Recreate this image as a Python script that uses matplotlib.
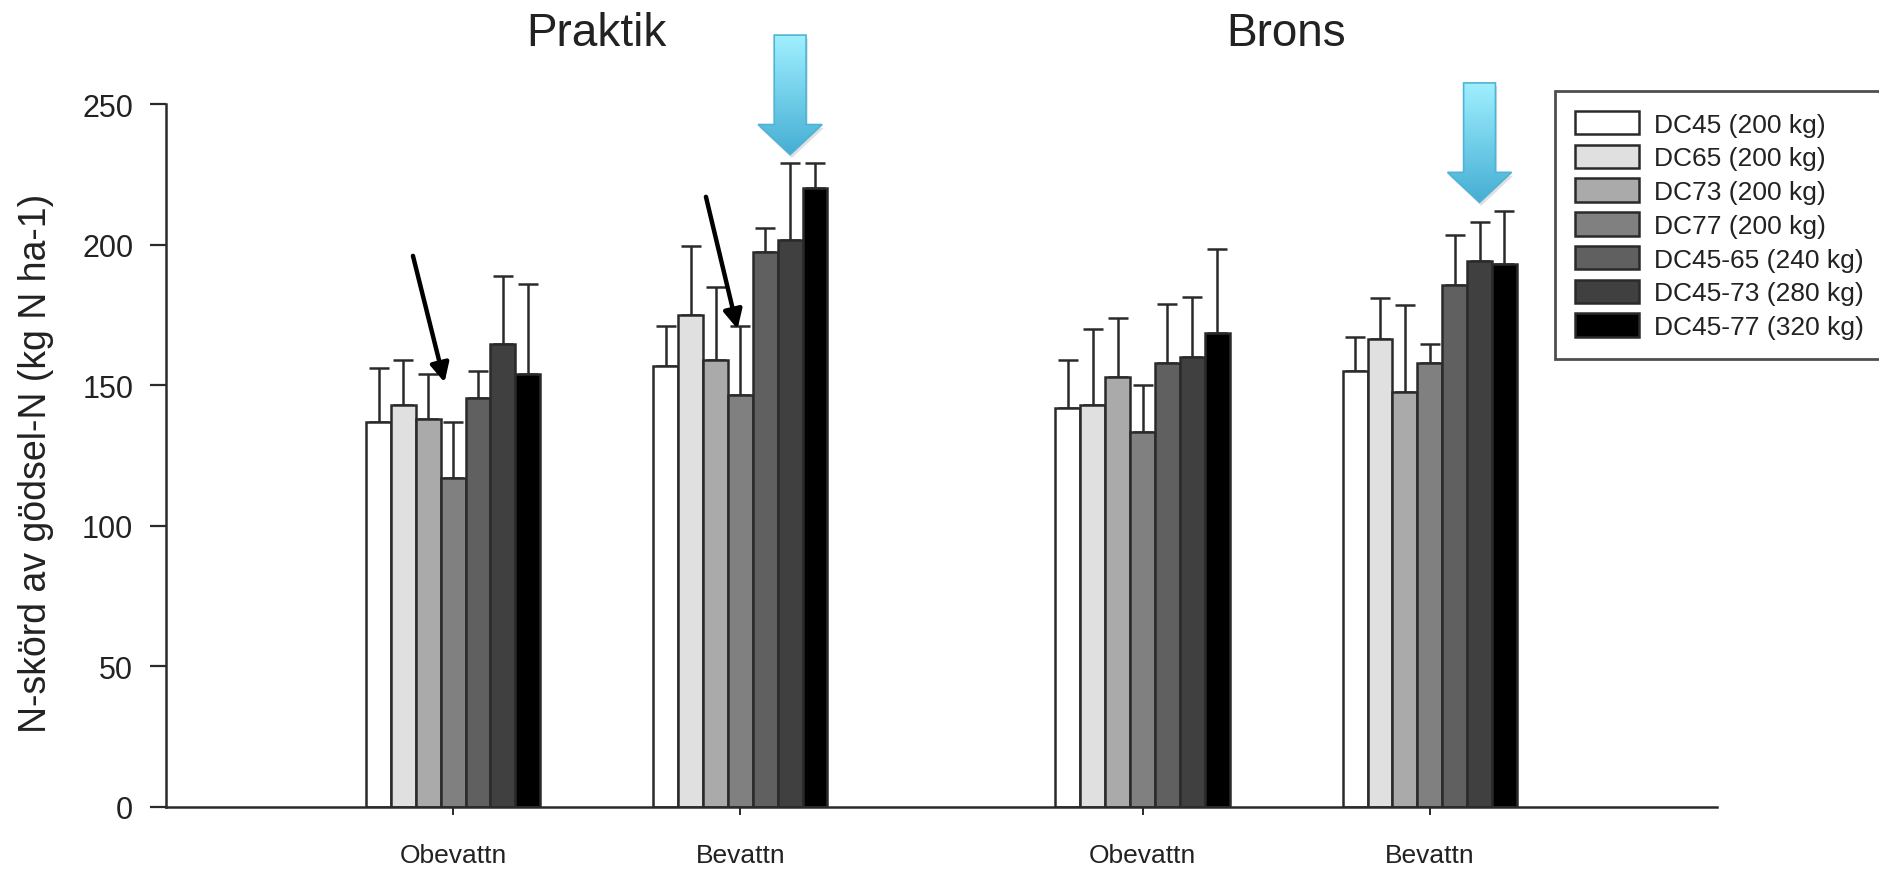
import numpy as np
import matplotlib
matplotlib.use("Agg")
from matplotlib import pyplot as plt
from matplotlib.patches import Polygon

plt.rcParams['font.family'] = ['Liberation Sans', 'DejaVu Sans']

# --- data -------------------------------------------------------------
series = ["DC45 (200 kg)", "DC65 (200 kg)", "DC73 (200 kg)", "DC77 (200 kg)",
          "DC45-65 (240 kg)", "DC45-73 (280 kg)", "DC45-77 (320 kg)"]
colors = ["#ffffff", "#e0e0e0", "#aaaaaa", "#808080", "#606060", "#404040", "#000000"]

group_labels = ["Obevattn", "Bevattn", "Obevattn", "Bevattn"]
sites = ["Praktik", "Brons"]

praktik_obevattn = [137, 143, 138, 117, 145.5, 164.5, 154]
praktik_obevattn_err = [19, 16, 16, 20, 9.5, 24.5, 32]
praktik_bevattn = [157, 175, 159, 146.5, 197.5, 201.5, 220]
praktik_bevattn_err = [14, 24.5, 26, 24.5, 8.5, 27.5, 9]
brons_obevattn = [142, 143, 153, 133.5, 158, 160, 168.5]
brons_obevattn_err = [17, 27, 21, 16.5, 21, 21.5, 30]
brons_bevattn = [155, 166.5, 147.5, 158, 185.5, 194, 193]
brons_bevattn_err = [12, 14.5, 31, 6.5, 18, 14, 19]

means = np.array([praktik_obevattn, praktik_bevattn, brons_obevattn, brons_bevattn])
errs = np.array([praktik_obevattn_err, praktik_bevattn_err, brons_obevattn_err, brons_bevattn_err])

# annotation arrows: black ones point at DC77, blue ones sit over DC45-73 in the irrigated groups
black_arrow_groups = [0, 1]
black_arrow_tail = [(-0.14, 196), (-0.12, 217)]
black_arrow_tip = [(-0.03, 151), (-0.01, 170)]
blue_arrow_groups = [1, 3]

# --- layout -----------------------------------------------------------
centers = np.array([1.0, 2.0, 3.4, 4.4])
bar_w = 0.0866
edge = "#2a2a2a"

fig = plt.figure(figsize=(18.79, 8.70), dpi=100)
ax = fig.add_axes([0.0883, 0.0713, 0.9138 - 0.0883, 0.8793 - 0.0713])

for i, (name, col) in enumerate(zip(series, colors)):
    x = centers + (i - 3) * bar_w
    ax.bar(x, means[:, i], width=bar_w, color=col, edgecolor=edge, linewidth=1.8,
           label=name, zorder=2)
    ax.errorbar(x, means[:, i], yerr=[np.zeros(len(x)), errs[:, i]], fmt='none',
                ecolor=edge, elinewidth=1.8, capsize=7.5, capthick=1.8, zorder=1)

ax.set_xlim(0, 5.4)
ax.set_ylim(0, 250)

for s in ["top", "right"]:
    ax.spines[s].set_visible(False)
for s in ["left", "bottom"]:
    ax.spines[s].set_linewidth(1.8)
    ax.spines[s].set_color(edge)

ax.set_yticks(range(0, 251, 50))
ax.tick_params(axis='y', direction='out', length=11.5, width=1.6, color=edge,
               labelsize=22, pad=12, labelcolor="#222222")
ax.set_xticks(centers)
ax.set_xticklabels(group_labels)
ax.tick_params(axis='x', direction='out', length=6, width=1.4, color=edge,
               labelsize=19, pad=20, labelcolor="#222222")

ax.set_ylabel("N-skörd av gödsel-N (kg N ha-1)", fontsize=27, color="#222222")
ax.yaxis.set_label_coords(-0.072, 0.49)

# site titles over each pair of groups
for k, site in enumerate(sites):
    xm = centers[2 * k:2 * k + 2].mean()
    ax.text(xm, 271, site, fontsize=33, ha='center', va='baseline',
            color="#222222", clip_on=False)

# black arrows
for g, tail, tip in zip(black_arrow_groups, black_arrow_tail, black_arrow_tip):
    xc = centers[g] + (3 - 3) * bar_w
    ax.annotate("", xy=(xc + tip[0], tip[1]), xytext=(xc + tail[0], tail[1]),
                arrowprops=dict(arrowstyle='-|>', lw=3.2, color='black',
                                mutation_scale=28, shrinkA=0, shrinkB=0),
                annotation_clip=False, zorder=6)

# blue block arrows with vertical gradient
grad = np.linspace(0, 1, 256)[:, None, None]
c_bot = np.array([0x45, 0xae, 0xd4]) / 255
c_top = np.array([0xa0, 0xf0, 0xff]) / 255
grad_img = c_bot * (1 - grad) + c_top * grad
shaft_w, head_w, head_l, total_l = 0.111, 0.223, 10.7, 42.5
for g in blue_arrow_groups:
    cx = centers[g] + (5 - 3) * bar_w
    ytip = (means[g] + errs[g]).max() + 3
    yh = ytip + head_l
    ytop = ytip + total_l
    verts = [(cx, ytip), (cx - head_w / 2, yh), (cx - shaft_w / 2, yh),
             (cx - shaft_w / 2, ytop), (cx + shaft_w / 2, ytop),
             (cx + shaft_w / 2, yh), (cx + head_w / 2, yh)]
    shadow = Polygon([(vx + 0.006, vy - 1.2) for vx, vy in verts], closed=True,
                     facecolor="#000000", alpha=0.12, edgecolor='none',
                     clip_on=False, zorder=4)
    ax.add_patch(shadow)
    clip = Polygon(verts, closed=True, transform=ax.transData)
    im = ax.imshow(grad_img, extent=[cx - head_w / 2, cx + head_w / 2, ytip, ytop],
                   origin='lower', aspect='auto', interpolation='bilinear', zorder=5)
    im.set_clip_path(clip)
    im.set_clip_box(fig.bbox)
    ax.add_patch(Polygon(verts, closed=True, facecolor='none', edgecolor="#4fb3d6",
                         linewidth=1.2, clip_on=False, zorder=5))

ax.set_xlim(0, 5.4)
ax.set_ylim(0, 250)

leg = ax.legend(loc='upper left', bbox_to_anchor=(1555 / 1879, 1 - 92 / 870),
                bbox_transform=fig.transFigure, fontsize=19, frameon=True,
                fancybox=False, borderpad=0.75, handlelength=2.45, handleheight=1.0,
                handletextpad=0.55, labelspacing=0.3, borderaxespad=0)
leg.get_frame().set_edgecolor("#222222")
leg.get_frame().set_linewidth(2)
for t in leg.get_texts():
    t.set_color("#222222")

fig.savefig("out.png", dpi=100)
